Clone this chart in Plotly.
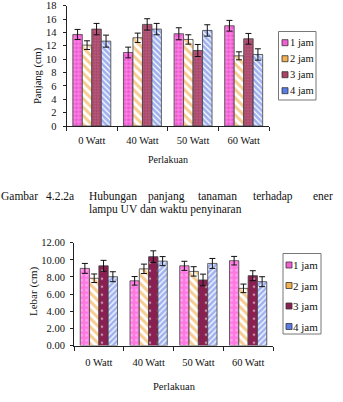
import plotly.graph_objects as go

W, H = 343, 402

categories = ["0 Watt", "40 Watt", "50 Watt", "60 Watt"]
series_names = ["1 jam", "2 jam", "3 jam", "4 jam"]

# Panjang (cm) - top chart
panjang_1jam = [13.7, 11.0, 13.8, 15.0]
panjang_2jam = [12.1, 13.2, 12.95, 10.5]
panjang_3jam = [14.5, 15.2, 11.3, 13.05]
panjang_4jam = [12.7, 14.5, 14.3, 10.7]
panjang_err_1jam = [0.75, 0.8, 0.9, 0.8]
panjang_err_2jam = [0.65, 0.7, 0.7, 0.6]
panjang_err_3jam = [0.85, 0.85, 0.9, 0.8]
panjang_err_4jam = [0.9, 0.85, 0.85, 0.85]

# Lebar (cm) - bottom chart
lebar_1jam = [9.0, 7.55, 9.3, 9.9]
lebar_2jam = [7.85, 8.95, 8.65, 6.67]
lebar_3jam = [9.3, 10.37, 7.65, 8.15]
lebar_4jam = [8.03, 9.85, 9.58, 7.45]
lebar_err_1jam = [0.58, 0.5, 0.53, 0.5]
lebar_err_2jam = [0.5, 0.55, 0.55, 0.5]
lebar_err_3jam = [0.64, 0.68, 0.68, 0.58]
lebar_err_4jam = [0.58, 0.53, 0.58, 0.58]

top_ticks = [0, 2, 4, 6, 8, 10, 12, 14, 16, 18]
bottom_ticks = [0, 2, 4, 6, 8, 10, 12]

caption_line1 = ["Gambar", "4.2.2a", "Hubungan", "panjang", "tanaman", "terhadap", "ener"]
caption_line2 = "lampu UV dan waktu penyinaran"

FONT = "Liberation Serif"


def px(x):
    return x / W


def py(y):
    return 1 - y / H


top_styles = [
    dict(bg="#FF80E4", fg="#D02CB4", shape=".", size=4, solidity=0.45, legend="#F060D4"),
    dict(bg="#FFFFFF", fg="#EE9A22", shape="\\", size=6, solidity=0.5, legend="#F2B050"),
    dict(bg="#A84468", fg="#D690AE", shape=".", size=3, solidity=0.3, legend="#A84468"),
    dict(bg="#FFFFFF", fg="#3F63E0", shape="\\", size=4, solidity=0.7, legend="#5A7CE6"),
]
bottom_styles = [
    dict(bg="#FF78E2", fg="#FFD4F6", shape=".", size=5, solidity=0.25, legend="#F060D4"),
    dict(bg="#FFFFFF", fg="#EE9A22", shape="\\", size=6, solidity=0.5, legend="#F2B050"),
    dict(bg="#8A2052", fg="#FFFFFF", shape=".", size=8, solidity=0.08, legend="#8A2052"),
    dict(bg="#FFFFFF", fg="#3F63E0", shape="/", size=4, solidity=0.7, legend="#5A7CE6"),
]

fig = go.Figure()

top_vals = [panjang_1jam, panjang_2jam, panjang_3jam, panjang_4jam]
top_errs = [panjang_err_1jam, panjang_err_2jam, panjang_err_3jam, panjang_err_4jam]
bot_vals = [lebar_1jam, lebar_2jam, lebar_3jam, lebar_4jam]
bot_errs = [lebar_err_1jam, lebar_err_2jam, lebar_err_3jam, lebar_err_4jam]

for name, vals, errs, st in zip(series_names, top_vals, top_errs, top_styles):
    fig.add_trace(go.Bar(
        x=categories, y=vals, name=name, showlegend=False,
        xaxis="x", yaxis="y",
        marker=dict(color=st["bg"], line=dict(color="#404040", width=0.8),
                    pattern=dict(shape=st["shape"], fgcolor=st["fg"], bgcolor=st["bg"],
                                 size=st["size"], solidity=st["solidity"], fillmode="overlay")),
        error_y=dict(type="data", array=errs, visible=True, color="#111111", thickness=1, width=3),
    ))

for name, vals, errs, st in zip(series_names, bot_vals, bot_errs, bottom_styles):
    fig.add_trace(go.Bar(
        x=categories, y=vals, name=name, showlegend=False,
        xaxis="x2", yaxis="y2",
        marker=dict(color=st["bg"], line=dict(color="#404040", width=0.8),
                    pattern=dict(shape=st["shape"], fgcolor=st["fg"], bgcolor=st["bg"],
                                 size=st["size"], solidity=st["solidity"], fillmode="overlay")),
        error_y=dict(type="data", array=errs, visible=True, color="#111111", thickness=1, width=3),
    ))

axis_common = dict(showgrid=False, zeroline=False, showline=True, linecolor="#222222",
                   linewidth=1, ticks="outside", tickcolor="#222222",
                   tickfont=dict(family=FONT, size=10.5, color="#111111"))

fig.update_layout(
    width=W, height=H,
    margin=dict(l=0, r=0, t=0, b=0, autoexpand=False),
    paper_bgcolor="white", plot_bgcolor="white",
    barmode="group", bargap=0.25, bargroupgap=0,
    font=dict(family=FONT, size=10.5, color="#111111"),
    xaxis=dict(domain=[px(66.5), px(269)], anchor="y", tickson="boundaries",
               ticklen=4, ticklabelstandoff=4, **axis_common),
    yaxis=dict(domain=[py(126), py(5.7)], anchor="x", range=[0, 18],
               tickvals=top_ticks, ticklen=3, ticklabelstandoff=4, **axis_common),
    xaxis2=dict(domain=[px(74), px(273)], anchor="y2", tickson="boundaries",
                ticklen=4, ticklabelstandoff=7, **axis_common),
    yaxis2=dict(domain=[py(345.5), py(242.7)], anchor="x2", range=[0, 12],
                tickvals=bottom_ticks, tickformat=".2f", ticklen=3, ticklabelstandoff=3,
                **axis_common),
)

ann = []
shapes = []


def text(x, y, s, size=10.5, xanchor="center", angle=0):
    ann.append(dict(x=px(x), y=py(y), xref="paper", yref="paper", text=s, showarrow=False,
                    xanchor=xanchor, yanchor="middle", textangle=angle,
                    font=dict(family=FONT, size=size, color="#111111")))


# Axis titles
text(38, 76, "Panjang (cm)", angle=-90)
text(168, 159.5, "Perlakuan", size=10)
text(33, 292, "Lebar (cm)", angle=-90, size=11)
text(174, 386.5, "Perlakuan", size=10.5)

# Caption
caption_x = [0, 45, 88, 147, 197, 252, 312]
for word, x in zip(caption_line1, caption_x):
    text(x - 1, 196, word, size=11.5, xanchor="left")
text(87, 209, caption_line2, size=11.5, xanchor="left")


# Legends (custom boxes)
def legend(box, ys, styles, sw_x, txt_x, size):
    x0, y0, x1, y1 = box
    shapes.append(dict(type="rect", xref="paper", yref="paper",
                       x0=px(x0), x1=px(x1), y0=py(y1), y1=py(y0),
                       line=dict(color="#777777", width=1), fillcolor="rgba(0,0,0,0)"))
    for name, y, st in zip(series_names, ys, styles):
        shapes.append(dict(type="rect", xref="paper", yref="paper",
                           x0=px(sw_x), x1=px(sw_x + 6), y0=py(y + 3), y1=py(y - 3),
                           line=dict(color="#333333", width=0.8), fillcolor=st["legend"]))
        text(txt_x, y, name, size=size, xanchor="left")


legend((278.5, 31.5, 316, 100), [42.7, 58.7, 74.7, 90.7], top_styles, 282, 288, 10.5)
legend((283, 253.5, 321, 334), [265, 285.5, 306, 326.5], bottom_styles, 286, 291, 11)

fig.update_layout(annotations=ann, shapes=shapes)

fig.write_html("out.html")
